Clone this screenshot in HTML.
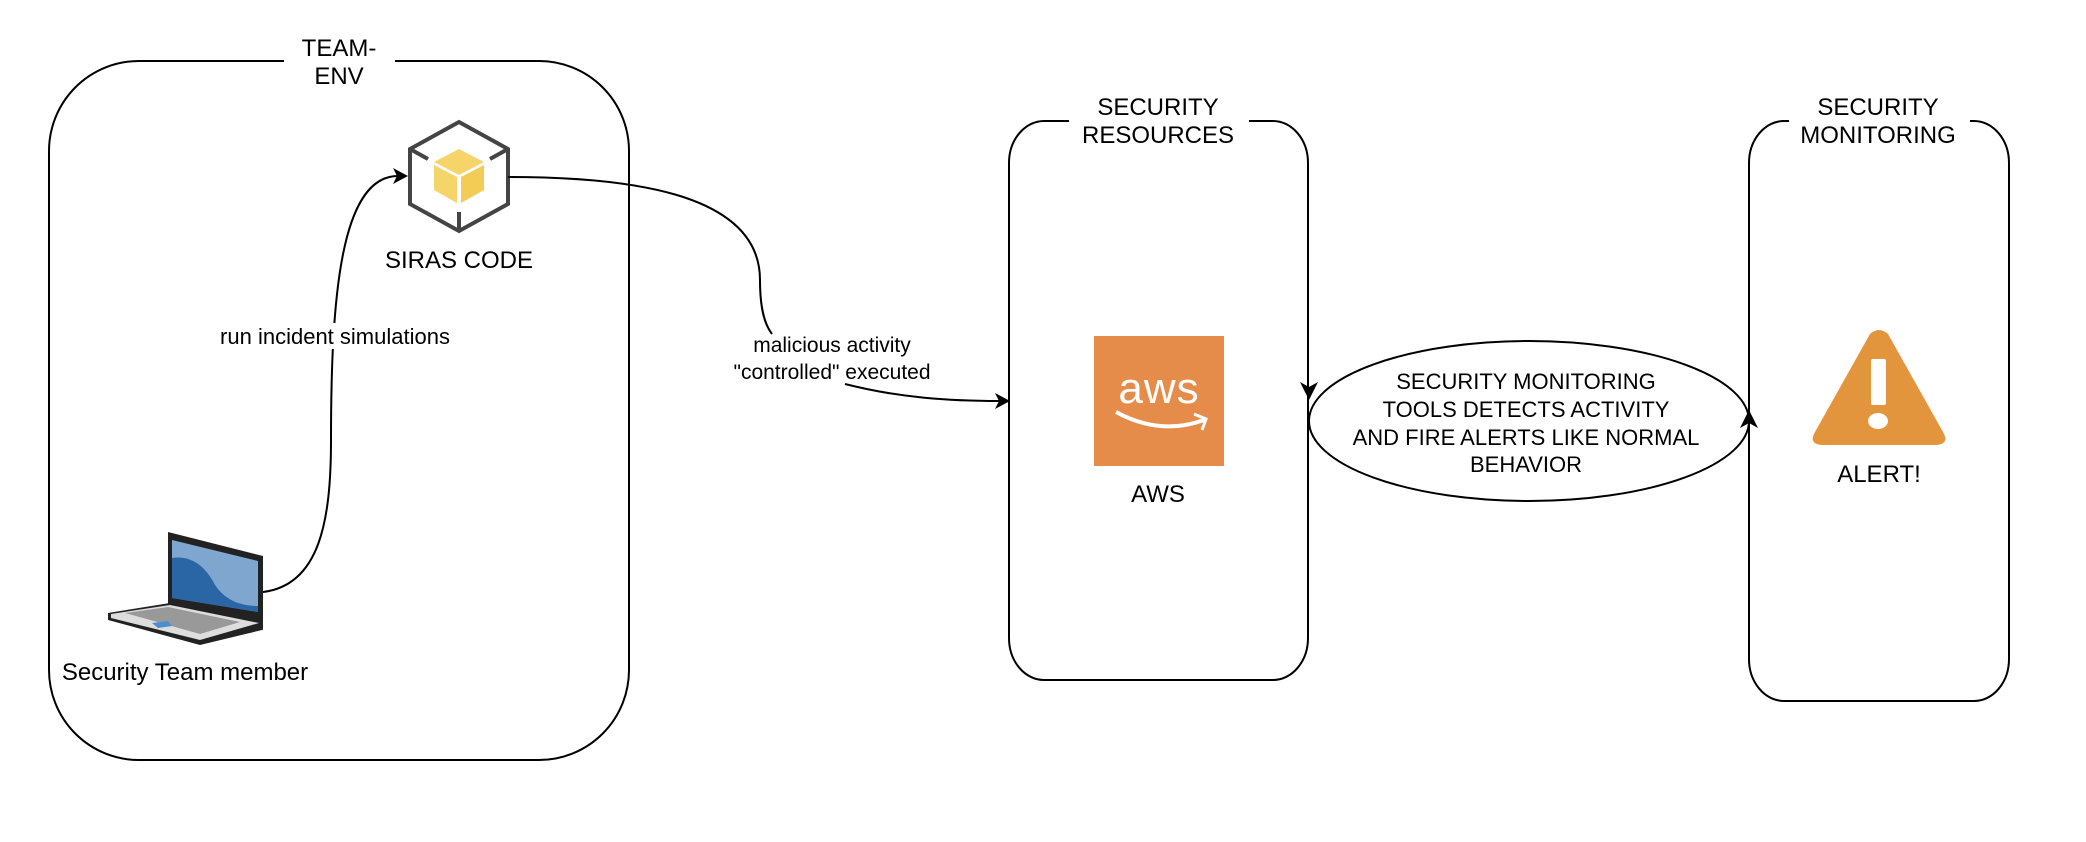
<!DOCTYPE html>
<html><head><meta charset="utf-8"><style>
html,body{margin:0;padding:0;background:#fff;}
svg{display:block;}
text{font-family:"Liberation Sans",Arial,sans-serif;fill:#000;}
</style></head><body>
<svg width="2086" height="842" viewBox="0 0 2086 842" xmlns="http://www.w3.org/2000/svg">
<rect width="2086" height="842" fill="#fff"/>
<path d="M284,61 H139 A90,90 0 0 0 49,151 V670 A90,90 0 0 0 139,760 H539 A90,90 0 0 0 629,670 V151 A90,90 0 0 0 539,61 H395" fill="none" stroke="#000" stroke-width="2"/>
<text x="339" y="56" font-size="24" text-anchor="middle">TEAM-</text>
<text x="339" y="84" font-size="24" text-anchor="middle">ENV</text>

<path d="M1069,121 H1044 A35,42 0 0 0 1009,163 V638 A35,42 0 0 0 1044,680 H1273 A35,42 0 0 0 1308,638 V163 A35,42 0 0 0 1273,121 H1249" fill="none" stroke="#000" stroke-width="2"/>
<text x="1158" y="115" font-size="24" text-anchor="middle">SECURITY</text>
<text x="1158" y="143" font-size="24" text-anchor="middle">RESOURCES</text>

<path d="M1789,121 H1784 A35,42 0 0 0 1749,163 V659 A35,42 0 0 0 1784,701 H1974 A35,42 0 0 0 2009,659 V163 A35,42 0 0 0 1974,121 H1970" fill="none" stroke="#000" stroke-width="2"/>
<text x="1878" y="115" font-size="24" text-anchor="middle">SECURITY</text>
<text x="1878" y="143" font-size="24" text-anchor="middle">MONITORING</text>

<g>
<polygon points="459,122 508,149 508,204 459,231 410,204 410,149" fill="#fff" stroke="#444" stroke-width="4"/>
<line x1="410" y1="149" x2="428" y2="159" stroke="#444" stroke-width="4"/>
<line x1="508" y1="149" x2="490" y2="159" stroke="#444" stroke-width="4"/>
<line x1="459" y1="231" x2="459" y2="212" stroke="#444" stroke-width="4"/>
<polygon points="459,149 484,162 459,175 434,162" fill="#F7D46A"/>
<polygon points="434,165 457,177 457,203 434,190" fill="#F5D469"/>
<polygon points="461,177 484,165 484,190 461,203" fill="#F2CC55"/>
</g>
<text x="459" y="268" font-size="24" text-anchor="middle">SIRAS CODE</text>

<g>
<polygon points="168,532 263,556 263,630 168,606" fill="#222"/>
<polygon points="172,540 258,561 258,612 172,598" fill="#7EA6CE"/>
<path d="M172,558 C190,555 205,565 215,585 C225,600 240,606 258,606 V612 L172,598 Z" fill="#2A65A5"/>
<polygon points="108,613 170,603 262,622 262,630 200,645 108,620" fill="#222"/>
<polygon points="111,614 170,605 259,623 200,640 111,618" fill="#ddd"/>
<polygon points="125,613 168,607 240,622 200,634" fill="#999"/>
<polygon points="152,623 168,621 172,626 158,628" fill="#4A90D0"/>
</g>
<text x="185" y="680" font-size="24" text-anchor="middle">Security Team member</text>

<path d="M263,592 C320,585 331,520 331,440 C331,300 340,176 398,176" fill="none" stroke="#000" stroke-width="2"/>
<polygon points="408,176 393,168 397,176 393,184" fill="#000"/>
<rect x="214" y="323" width="242" height="26" fill="#fff"/>
<text x="335" y="344" font-size="22" text-anchor="middle">run incident simulations</text>

<path d="M508,177 C620,177 760,190 760,280 C760,310 765,325 772,334" fill="none" stroke="#000" stroke-width="2"/>
<path d="M845,384 C900,398 950,401 1000,401" fill="none" stroke="#000" stroke-width="2"/>
<polygon points="1010,401 995,393 999,401 995,409" fill="#000"/>
<text x="832" y="352" font-size="21" text-anchor="middle">malicious activity</text>
<text x="832" y="379" font-size="21" text-anchor="middle">"controlled" executed</text>

<rect x="1094" y="336" width="130" height="130" fill="#E68C4B"/>
<text x="1159" y="403" font-size="44" text-anchor="middle" style="fill:#fff" letter-spacing="1">aws</text>
<path d="M1116,412 Q1160,436 1204,420" fill="none" stroke="#fff" stroke-width="4"/>
<path d="M1194,414 L1206,419 L1202,430" fill="none" stroke="#fff" stroke-width="3"/>
<text x="1158" y="502" font-size="24" text-anchor="middle">AWS</text>

<ellipse cx="1529" cy="421" rx="220" ry="80" fill="#fff" stroke="#000" stroke-width="2"/>
<polygon points="1309,400 1300,382 1309,387 1318,382" fill="#000"/>
<polygon points="1749,410 1740,428 1749,423 1758,428" fill="#000"/>
<text x="1526" y="389" font-size="22" text-anchor="middle">SECURITY MONITORING</text>
<text x="1526" y="417" font-size="22" text-anchor="middle">TOOLS DETECTS ACTIVITY</text>
<text x="1526" y="445" font-size="22" text-anchor="middle">AND FIRE ALERTS LIKE NORMAL</text>
<text x="1526" y="472" font-size="22" text-anchor="middle">BEHAVIOR</text>

<path d="M1870,334 Q1879,326 1888,334 L1943,432 Q1950,444 1936,445 L1822,445 Q1808,444 1815,432 Z" fill="#E3953E"/>
<rect x="1871" y="359" width="15" height="46" rx="2" fill="#fff"/>
<ellipse cx="1878" cy="421" rx="10" ry="8" fill="#fff"/>
<text x="1879" y="482" font-size="24" text-anchor="middle">ALERT!</text>
</svg>
</body></html>
